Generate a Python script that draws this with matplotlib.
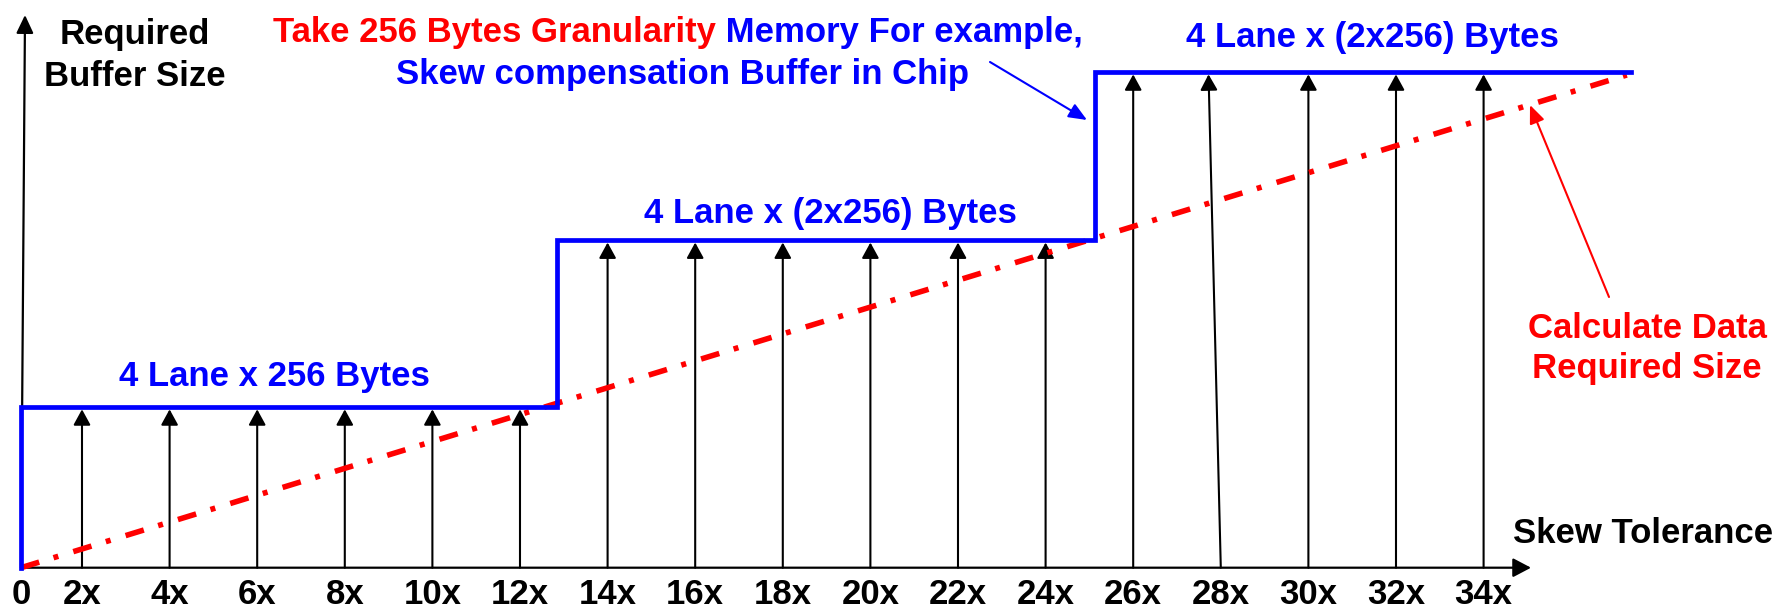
import matplotlib
matplotlib.use("Agg")
import matplotlib.pyplot as plt
from matplotlib.patches import FancyArrowPatch

plt.rcParams['font.family'] = ['Liberation Sans', 'DejaVu Sans']
plt.rcParams['font.weight'] = 'bold'
plt.rcParams['lines.scale_dashes'] = False

# ---------------- data ----------------
skew_ticks = [2, 4, 6, 8, 10, 12, 14, 16, 18, 20, 22, 24, 26, 28, 30, 32, 34]
skew_labels = ["2x", "4x", "6x", "8x", "10x", "12x", "14x", "16x", "18x",
               "20x", "22x", "24x", "26x", "28x", "30x", "32x", "34x"]
# x where each black arrow ends (the 28x arrow leans slightly)
arrow_top_x = [2, 4, 6, 8, 10, 12, 14, 16, 18, 20, 22, 24, 26, 27.72, 30, 32, 34]
# which buffer level each arrow reaches
arrow_level_idx = [0, 0, 0, 0, 0, 0, 1, 1, 1, 1, 1, 1, 2, 2, 2, 2, 2]
buffer_levels = [0.974, 1.985, 3.004]          # 4x256, 4x(2x256), 4x(2x256)
buffer_labels = ["4 Lane x 256 Bytes", "4 Lane x (2x256) Bytes", "4 Lane x (2x256) Bytes"]
step_x = [0.607, 12.845, 25.13, 37.36]         # origin, step edges, end
required_x = [0.607, 37.27]                    # calculated data required size
required_y = [0.0, 2.986]

# ---------------- figure / coordinate frame ----------------
W, H, DPI = 1779, 612, 100
fig = plt.figure(figsize=(W / DPI, H / DPI), dpi=DPI)
ax = fig.add_axes([0, 0, 1, 1])
PX_PER_X, PX_PER_Y = 43.8, 165.0
X_LEFT, Y0_PX = 0.128, 567.7
ax.set_xlim(X_LEFT, X_LEFT + W / PX_PER_X)
ax.set_ylim(-(H - Y0_PX) / PX_PER_Y, Y0_PX / PX_PER_Y)
ax.axis('off')


def P(px, py):
    """pixel position (from top-left) -> data coords"""
    return (X_LEFT + px / PX_PER_X, (Y0_PX - py) / PX_PER_Y)


BLUE = '#0000FF'
RED = '#FF0000'
FS = 25

# ---------------- axes arrows ----------------
origin = (step_x[0], 0.0)
ax.add_patch(FancyArrowPatch(origin, P(1531, Y0_PX), arrowstyle='-|>,head_length=11,head_width=5.8',
                             mutation_scale=1, lw=1.6, color='black', shrinkA=0, shrinkB=0, zorder=2))
ax.add_patch(FancyArrowPatch(origin, P(25, 15), arrowstyle='-|>,head_length=11,head_width=5.2',
                             mutation_scale=1, lw=1.6, color='black', shrinkA=0, shrinkB=0, zorder=2))

# ---------------- black arrows at each tick ----------------
blue_lw = 3.4
half_blue = (blue_lw / 72 * DPI / 2) / PX_PER_Y
for xb, xt, li in zip(skew_ticks, arrow_top_x, arrow_level_idx):
    ax.add_patch(FancyArrowPatch((xb, 0), (xt, buffer_levels[li] - half_blue),
                                 arrowstyle='-|>,head_length=9.5,head_width=5.2',
                                 mutation_scale=1, lw=1.5, color='black',
                                 shrinkA=0, shrinkB=0, zorder=3))

# ---------------- required-size (red dash-dot) ----------------
ax.plot(required_x, required_y, color=RED, lw=4.0,
        dashes=(13.7, 10.8, 3.6, 11.3), dash_capstyle='butt', zorder=4)

# ---------------- buffer step (blue) ----------------
bx = [step_x[0], step_x[0], step_x[1], step_x[1], step_x[2], step_x[2], step_x[3]]
by = [0, buffer_levels[0], buffer_levels[0], buffer_levels[1], buffer_levels[1],
      buffer_levels[2], buffer_levels[2]]
ax.plot(bx, by, color=BLUE, lw=blue_lw, solid_joinstyle='miter',
        solid_capstyle='projecting', zorder=5)

# ---------------- tick labels ----------------
label_y = P(0, 604)[1]
ax.text(step_x[0], label_y, "0", ha='center', va='baseline', fontsize=FS)
for xb, lab in zip(skew_ticks, skew_labels):
    ax.text(xb, label_y, lab, ha='center', va='baseline', fontsize=FS)

# ---------------- texts ----------------
ax.text(*P(135, 44), "Required", ha='center', va='baseline', fontsize=FS, color='black')
ax.text(*P(135, 86), "Buffer Size", ha='center', va='baseline', fontsize=FS, color='black')

red_t = ax.text(*P(273, 42), "Take 256 Bytes Granularity", ha='left', va='baseline',
                fontsize=FS, color=RED)
ax.annotate(" Memory For example,", xy=(1, 0), xycoords=red_t, ha='left', va='bottom',
            fontsize=FS, color=BLUE)
ax.text(*P(683, 84), "Skew compensation Buffer in Chip", ha='center', va='baseline',
        fontsize=FS, color=BLUE)

ax.text(*P(274, 386), buffer_labels[0], ha='center', va='baseline', fontsize=FS, color=BLUE)
ax.text(*P(830, 223), buffer_labels[1], ha='center', va='baseline', fontsize=FS, color=BLUE)
ax.text(*P(1372, 47), buffer_labels[2], ha='center', va='baseline', fontsize=FS, color=BLUE)

ax.text(*P(1647, 338), "Calculate Data", ha='center', va='baseline', fontsize=FS, color=RED)
ax.text(*P(1647, 378), "Required Size", ha='center', va='baseline', fontsize=FS, color=RED)

ax.text(*P(1643, 543), "Skew Tolerance", ha='center', va='baseline', fontsize=FS, color='black')

# annotation arrows
ax.add_patch(FancyArrowPatch(P(990, 62), P(1087, 120), arrowstyle='-|>,head_length=11,head_width=4.6',
                             mutation_scale=1, lw=1.5, color=BLUE, shrinkA=0, shrinkB=0, zorder=6))
ax.add_patch(FancyArrowPatch(P(1609, 297), P(1530, 105), arrowstyle='-|>,head_length=11,head_width=4.6',
                             mutation_scale=1, lw=1.5, color=RED, shrinkA=0, shrinkB=0, zorder=6))

fig.savefig("out.png", dpi=DPI)
